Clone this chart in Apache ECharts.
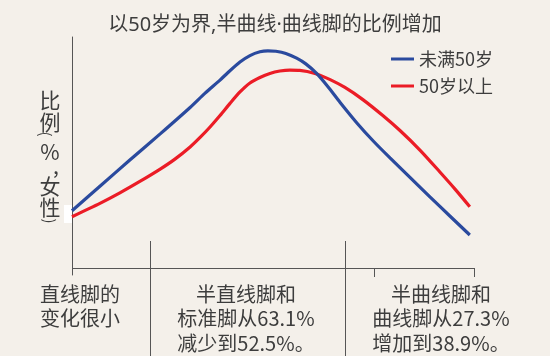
<!DOCTYPE html>
<html>
<head>
<meta charset="utf-8">
<script src="https://cdn.jsdelivr.net/npm/echarts@6/dist/echarts.min.js"></script>
<style>
html,body{margin:0;padding:0;background:#f4f0ea;}
#chart{width:550px;height:356px;}
</style>
</head>
<body>
<div id="chart"></div>
<script>
// ---- data (relative units) ----
const title = '以50岁为界,半曲线·曲线脚的比例增加';
const seriesNames = ['未满50岁', '50岁以上'];
const blueX = [0, 7.0, 14.5, 22.1, 29.6, 33.3, 37.1, 39.1, 42.1, 44.6, 47.1, 49.1, 51.1, 53.6, 56.3, 58.6, 61.3, 64.2, 67.2, 71.4, 75.5, 79.7, 84.7, 89.7, 94.7, 99.7];
const blueY = [27.0, 37.3, 48.3, 59.3, 70.4, 76.3, 81.9, 85.1, 89.5, 92.2, 93.8, 94.2, 94.0, 93.1, 91.1, 88.7, 84.7, 79.0, 72.5, 63.9, 56.3, 49.2, 41.0, 32.8, 24.8, 16.8];
const redX = [0, 7.0, 12.0, 17.0, 22.1, 25.8, 29.6, 32.1, 34.6, 37.1, 39.6, 42.1, 44.6, 47.1, 49.6, 52.1, 54.6, 57.1, 60.9, 64.7, 68.4, 72.9, 77.9, 82.2, 87.2, 92.2, 96.0, 99.7];
const redY = [24.5, 30.1, 34.5, 39.3, 44.5, 48.7, 53.8, 57.8, 62.2, 67.0, 72.1, 76.9, 80.7, 83.0, 84.7, 85.7, 86.1, 86.0, 84.7, 82.1, 78.8, 73.7, 67.0, 60.7, 52.5, 43.3, 36.1, 28.7];
const yLabelChars = ['比', '例', '(', '%', ',', '女', '性', ')'];
const bottomNotes = ['直线脚的\n变化很小', '半直线脚和\n标准脚从63.1%\n减少到52.5%。', '半曲线脚和\n曲线脚从27.3%\n增加到38.9%。'];

const FONT = '"Noto Sans CJK SC", "Noto Sans", sans-serif';
const TXT = '#3d3d3d';
const LINEC = '#555';

const chart = echarts.init(document.getElementById('chart'));

const yLabelPos = [100, 122.5, 134, 152.5, 166, 186, 207, 221];
const yLabelX = [50, 50, 46, 50, 56, 50, 50, 50];
const yLabelRot = [0, 0, -Math.PI / 2, 0, 0, 0, 0, -Math.PI / 2];
const yLabelSize = [21, 21, 15, 21, 21, 21, 21, 15];
const graphics = [];
yLabelChars.forEach((c, i) => {
  graphics.push({type: 'text', x: yLabelX[i], y: yLabelPos[i], rotation: yLabelRot[i],
    style: {text: c, font: yLabelSize[i] + 'px ' + FONT, fill: TXT, align: 'center', verticalAlign: 'middle'}});
});
// small white patch at axis
graphics.push({type: 'rect', shape: {x: 64, y: 205, width: 8, height: 18}, style: {fill: '#ffffff'}, z: -1});
// bracket lines under the plot
const seg = (x1, y1, x2, y2) => ({type: 'line', shape: {x1, y1, x2, y2}, style: {stroke: LINEC, lineWidth: 1}});
graphics.push(seg(72, 268.5, 474, 268.5));
graphics.push(seg(374.5, 268, 374.5, 277));
graphics.push(seg(474.5, 268, 474.5, 277));
graphics.push(seg(150.5, 241, 150.5, 356));
graphics.push(seg(345.5, 241, 345.5, 356));
const noteX = [80, 246, 441];
bottomNotes.forEach((t, i) => {
  graphics.push({type: 'text', x: noteX[i], y: 282, style: {text: t, font: '20px ' + FONT, fill: TXT, align: 'center', verticalAlign: 'top', lineHeight: 24.5}});
});

chart.setOption({
  backgroundColor: '#f4f0ea',
  animation: false,
  title: {
    text: title, left: 'center', top: 10,
    textStyle: {fontFamily: '"Noto Sans", "Noto Sans CJK SC", sans-serif', fontSize: 20, fontWeight: 'normal', color: TXT}
  },
  legend: {
    orient: 'vertical', left: 386, top: 45, itemGap: 9,
    itemWidth: 23, itemHeight: 3, icon: 'rect',
    textStyle: {fontFamily: FONT, fontSize: 18, color: TXT, lineHeight: 18},
    data: seriesNames
  },
  grid: {left: 72, right: 79, top: 37, bottom: 81},
  xAxis: {type: 'value', min: 0, max: 100, show: false},
  yAxis: {
    type: 'value', min: 0, max: 100,
    axisLine: {show: true, lineStyle: {color: LINEC, width: 1}},
    axisTick: {show: false}, axisLabel: {show: false}, splitLine: {show: false}
  },
  series: [
    {name: seriesNames[0], type: 'line', smooth: 0.25, symbol: 'none', color: '#2a4a9e',
     lineStyle: {width: 3.2, color: '#2a4a9e'}, data: blueX.map((x, i) => [x, blueY[i]]), z: 3},
    {name: seriesNames[1], type: 'line', smooth: 0.25, symbol: 'none', color: '#eb1c26',
     lineStyle: {width: 3.2, color: '#eb1c26'}, data: redX.map((x, i) => [x, redY[i]]), z: 2}
  ],
  graphic: graphics
});
</script>
</body>
</html>
